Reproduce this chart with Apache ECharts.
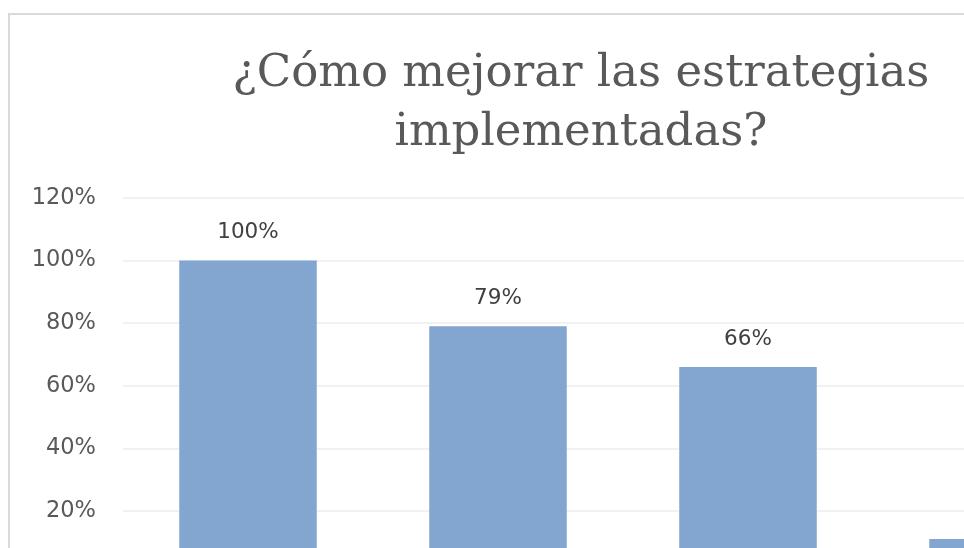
<!DOCTYPE html>
<html>
<head>
<meta charset="utf-8">
<script src="https://cdn.jsdelivr.net/npm/echarts@6/dist/echarts.min.js"></script>
<style>
html,body{margin:0;padding:0;width:964px;height:548px;overflow:hidden;background:#fff;}
#chart{position:absolute;left:0;top:0;width:1162px;height:620px;}
</style>
</head>
<body>
<div id="chart"></div>
<script>
const titleText = "¿Cómo mejorar las estrategias\nimplementadas?";
const categories = ["Estrategia 1", "Estrategia 2", "Estrategia 3", "Estrategia 4"];
const values = [1.00, 0.79, 0.66, 0.11];
const yTicks = { min: 0, max: 1.2, interval: 0.2 };

const chart = echarts.init(document.getElementById('chart'), null, { renderer: 'canvas' });
chart.setOption({
  animation: false,
  backgroundColor: '#ffffff',
  graphic: [{
    type: 'rect',
    shape: { x: 9, y: 14, width: 1144, height: 600 },
    style: { fill: 'none', stroke: '#d9d9d9', lineWidth: 2 },
    silent: true
  }],
  title: {
    text: titleText,
    left: 'center',
    top: 45,
    padding: 0,
    textStyle: {
      fontFamily: 'DejaVu Serif',
      fontSize: 45,
      fontWeight: 'normal',
      color: '#595959',
      lineHeight: 59
    }
  },
  grid: { left: 123, top: 198, width: 1000, height: 375.5, containLabel: false },
  xAxis: {
    type: 'category',
    data: categories,
    axisLine: { show: true, lineStyle: { color: '#d9d9d9' } },
    axisTick: { show: false },
    axisLabel: { show: false }
  },
  yAxis: {
    type: 'value',
    min: yTicks.min,
    max: yTicks.max,
    interval: yTicks.interval,
    axisLine: { show: false },
    axisTick: { show: false },
    splitLine: { lineStyle: { color: '#ececec', width: 1.5 } },
    axisLabel: {
      margin: 27,
      fontFamily: 'DejaVu Sans',
      fontSize: 22.5,
      color: '#595959',
      formatter: v => Math.round(v * 100) + '%'
    }
  },
  series: [{
    type: 'bar',
    data: values,
    barWidth: '55%',
    itemStyle: { color: '#82a6cf' },
    label: {
      show: true,
      position: 'top',
      distance: 17,
      fontFamily: 'DejaVu Sans',
      fontSize: 21.5,
      color: '#404040',
      formatter: p => Math.round(p.value * 100) + '%'
    }
  }]
});
</script>
</body>
</html>
